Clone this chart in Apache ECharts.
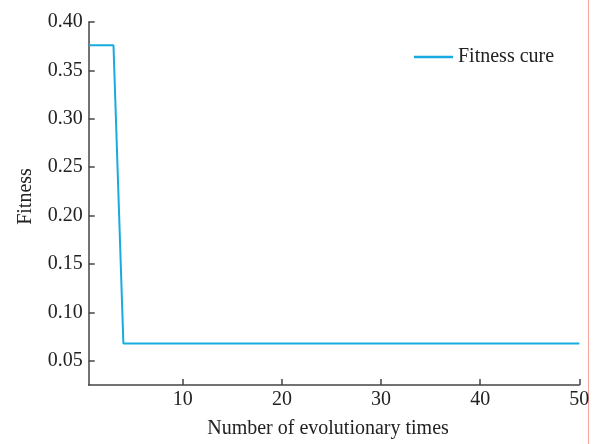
<!DOCTYPE html>
<html><head><meta charset="utf-8">
<script src="https://cdn.jsdelivr.net/npm/echarts@6/dist/echarts.min.js"></script>
<style>html,body{margin:0;padding:0;background:#fff}#c{width:597px;height:444px}</style>
</head><body><div id="c"></div>
<script>
const generations = [0.5,1,2,3,4,5,6,7,8,9,10,11,12,13,14,15,16,17,18,19,20,21,22,23,24,25,26,27,28,29,30,31,32,33,34,35,36,37,38,39,40,41,42,43,44,45,46,47,48,49,50];
const fitness = [0.376,0.376,0.376,0.376,0.068,0.068,0.068,0.068,0.068,0.068,0.068,0.068,0.068,0.068,0.068,0.068,0.068,0.068,0.068,0.068,0.068,0.068,0.068,0.068,0.068,0.068,0.068,0.068,0.068,0.068,0.068,0.068,0.068,0.068,0.068,0.068,0.068,0.068,0.068,0.068,0.068,0.068,0.068,0.068,0.068,0.068,0.068,0.068,0.068,0.068,0.068];
const xTicks = [10,20,30,40,50];
const yTicks = [0.05,0.10,0.15,0.20,0.25,0.30,0.35,0.40];
const seriesName = 'Fitness cure';
const xTitle = 'Number of evolutionary times';
const yTitle = 'Fitness';

const font = 'Liberation Serif, Times New Roman, serif';
const axisColor = '#444';
const txt = '#222';
const chart = echarts.init(document.getElementById('c'));
chart.setOption({
  animation: false,
  grid: {left: 88.7, right: 17.7, top: 22, bottom: 58.7, containLabel: false},
  legend: {
    data: [{name: seriesName, icon: 'rect'}], left: 414, top: 47, padding: 0, itemWidth: 39, itemHeight: 2.5, itemGap: 6,
    textStyle: {fontFamily: font, fontSize: 20, color: txt}
  },
  xAxis: {
    type: 'value', min: 0.5, max: 50,
    name: xTitle, nameLocation: 'middle', nameGap: 34,
    nameTextStyle: {fontFamily: font, fontSize: 20, color: txt, padding: [0, 12, 0, 0]},
    axisLine: {lineStyle: {color: axisColor, width: 1.5}},
    axisTick: {inside: true, length: 6, customValues: xTicks, lineStyle: {color: axisColor, width: 1.5}},
    axisLabel: {customValues: xTicks, fontFamily: font, fontSize: 20, color: txt, margin: 5},
    splitLine: {show: false}
  },
  yAxis: {
    type: 'value', min: 0.025, max: 0.40,
    name: yTitle, nameLocation: 'middle', nameGap: 53, nameRotate: 90,
    nameTextStyle: {fontFamily: font, fontSize: 20, color: txt, padding: [0, 0, 0, 14]},
    axisLine: {show: true, lineStyle: {color: axisColor, width: 1.5}},
    axisTick: {show: true, inside: true, length: 6, customValues: yTicks, lineStyle: {color: axisColor, width: 1.5}},
    axisLabel: {customValues: yTicks, fontFamily: font, fontSize: 20, color: txt, margin: 6,
      formatter: v => v.toFixed(2)},
    splitLine: {show: false}
  },
  series: [{
    name: seriesName, type: 'line', symbol: 'none',
    data: generations.map((g, i) => [g, fitness[i]]),
    lineStyle: {color: '#17ace0', width: 2}, itemStyle: {color: '#17ace0'}
  }],
  graphic: [{
    type: 'line', shape: {x1: 588.5, y1: 0, x2: 588.5, y2: 444},
    style: {stroke: '#f4a49c', lineWidth: 1}
  }]
});
</script></body></html>
